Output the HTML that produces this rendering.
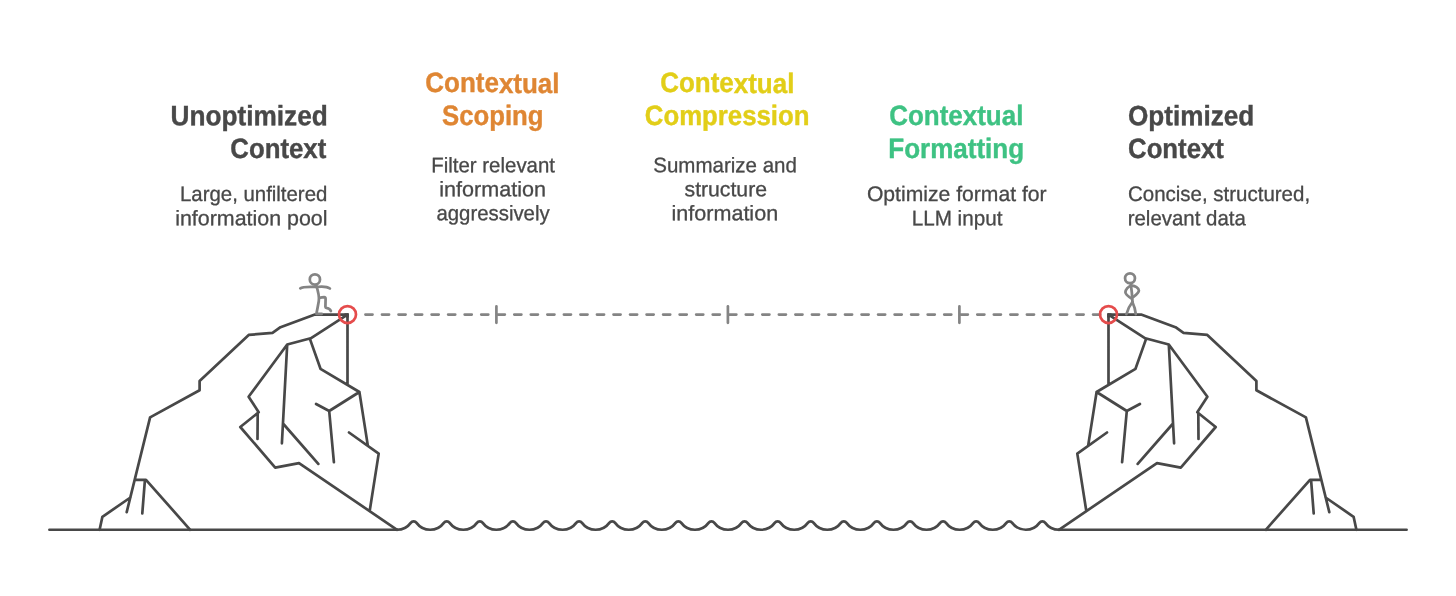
<!DOCTYPE html>
<html lang="en">
<head>
<meta charset="utf-8">
<title>Context Optimization</title>
<style>
html,body{margin:0;padding:0;background:#fff;}
body{width:1456px;height:596px;overflow:hidden;}
svg{display:block;will-change:transform;}
text{font-family:"Liberation Sans",sans-serif;}
</style>
</head>
<body>
<svg width="1456" height="596" viewBox="0 0 1456 596">
<rect width="1456" height="596" fill="#ffffff"/>
<g fill="none" stroke="#484848" stroke-width="2.7" stroke-linecap="round" stroke-linejoin="round">
<path d="M49.4,529.75 H397.1 M1058.9,529.75 H1406.6"/>
<path d="M347.5,314.6 L314.9,314.6 L280.5,327.2 L272.5,332.9 L248.7,334.9 L199.6,381.0 L199.6,390.3 L150.1,417.4 L126.7,512.1 M99.6,529.8 L102.4,516.8 L130.4,497.5 M134.8,479.8 L146.0,479.8 L190.2,529.8 M144.9,480.3 L142.3,513.3 M347.5,314.6 L310.7,338.3 L287.2,344.5 L248.6,396.7 L258.7,412.2 L240.3,427.0 L275.2,467.6 L299.0,463.1 L397.1,529.8 M257.7,412.8 L257.5,439.0 M287.2,344.5 L281.9,443.3 M283.4,424.0 L318.3,463.9 M309.9,338.9 L320.5,368.8 L359.4,392.0 L329.2,411.0 L333.9,462.2 M329.2,411.0 L316.1,404.0 M347.5,314.6 L347.5,384.6 M359.4,392.0 L367.8,445.4 M349.0,432.5 L378.7,453.6 L369.8,510.3"/>
<path d="M1108.5,314.6 L1141.1,314.6 L1175.5,327.2 L1183.5,332.9 L1207.3,334.9 L1256.4,381.0 L1256.4,390.3 L1305.9,417.4 L1329.3,512.1 M1356.4,529.8 L1353.6,516.8 L1325.6,497.5 M1321.2,479.8 L1310.0,479.8 L1265.8,529.8 M1311.1,480.3 L1313.7,513.3 M1108.5,314.6 L1145.3,338.3 L1168.8,344.5 L1207.4,396.7 L1197.3,412.2 L1215.7,427.0 L1180.8,467.6 L1157.0,463.1 L1058.9,529.8 M1198.3,412.8 L1198.5,439.0 M1168.8,344.5 L1174.1,443.3 M1172.6,424.0 L1137.7,463.9 M1146.1,338.9 L1135.5,368.8 L1096.6,392.0 L1126.8,411.0 L1122.1,462.2 M1126.8,411.0 L1139.9,404.0 M1108.5,314.6 L1108.5,384.6 M1096.6,392.0 L1088.2,445.4 M1107.0,432.5 L1077.3,453.6 L1086.2,510.3"/>
<path d="M344.50,314.55 H347.5 V317.55 M1111.50,314.55 H1108.5 V317.55" stroke-linejoin="miter" stroke-linecap="butt"/>
</g>
<path d="M397.10,529.75 A16.89,16.89 0 0 0 410.74,522.83 A3.60,3.60 0 0 1 416.55,522.83 A16.89,16.89 0 0 0 430.19,529.75 A16.89,16.89 0 0 0 443.83,522.83 A3.60,3.60 0 0 1 449.64,522.83 A16.89,16.89 0 0 0 463.28,529.75 A16.89,16.89 0 0 0 476.92,522.83 A3.60,3.60 0 0 1 482.73,522.83 A16.89,16.89 0 0 0 496.37,529.75 A16.89,16.89 0 0 0 510.01,522.83 A3.60,3.60 0 0 1 515.82,522.83 A16.89,16.89 0 0 0 529.46,529.75 A16.89,16.89 0 0 0 543.10,522.83 A3.60,3.60 0 0 1 548.91,522.83 A16.89,16.89 0 0 0 562.55,529.75 A16.89,16.89 0 0 0 576.19,522.83 A3.60,3.60 0 0 1 582.00,522.83 A16.89,16.89 0 0 0 595.64,529.75 A16.89,16.89 0 0 0 609.28,522.83 A3.60,3.60 0 0 1 615.09,522.83 A16.89,16.89 0 0 0 628.73,529.75 A16.89,16.89 0 0 0 642.37,522.83 A3.60,3.60 0 0 1 648.18,522.83 A16.89,16.89 0 0 0 661.82,529.75 A16.89,16.89 0 0 0 675.46,522.83 A3.60,3.60 0 0 1 681.27,522.83 A16.89,16.89 0 0 0 694.91,529.75 A16.89,16.89 0 0 0 708.55,522.83 A3.60,3.60 0 0 1 714.36,522.83 A16.89,16.89 0 0 0 728.00,529.75 A16.89,16.89 0 0 0 741.64,522.83 A3.60,3.60 0 0 1 747.45,522.83 A16.89,16.89 0 0 0 761.09,529.75 A16.89,16.89 0 0 0 774.73,522.83 A3.60,3.60 0 0 1 780.54,522.83 A16.89,16.89 0 0 0 794.18,529.75 A16.89,16.89 0 0 0 807.82,522.83 A3.60,3.60 0 0 1 813.63,522.83 A16.89,16.89 0 0 0 827.27,529.75 A16.89,16.89 0 0 0 840.91,522.83 A3.60,3.60 0 0 1 846.72,522.83 A16.89,16.89 0 0 0 860.36,529.75 A16.89,16.89 0 0 0 874.00,522.83 A3.60,3.60 0 0 1 879.81,522.83 A16.89,16.89 0 0 0 893.45,529.75 A16.89,16.89 0 0 0 907.09,522.83 A3.60,3.60 0 0 1 912.90,522.83 A16.89,16.89 0 0 0 926.54,529.75 A16.89,16.89 0 0 0 940.18,522.83 A3.60,3.60 0 0 1 945.99,522.83 A16.89,16.89 0 0 0 959.63,529.75 A16.89,16.89 0 0 0 973.27,522.83 A3.60,3.60 0 0 1 979.08,522.83 A16.89,16.89 0 0 0 992.72,529.75 A16.89,16.89 0 0 0 1006.36,522.83 A3.60,3.60 0 0 1 1012.17,522.83 A16.89,16.89 0 0 0 1025.81,529.75 A16.89,16.89 0 0 0 1039.45,522.83 A3.60,3.60 0 0 1 1045.26,522.83 A16.89,16.89 0 0 0 1058.90,529.75" fill="none" stroke="#484848" stroke-width="2.7" stroke-linecap="round" stroke-linejoin="round"/>
<g fill="none" stroke="#848484" stroke-width="2.7" stroke-linecap="round" stroke-linejoin="round">
<path d="M365.43,314.55h7.10 M381.97,314.55h7.10 M398.51,314.55h7.10 M415.05,314.55h7.10 M431.59,314.55h7.10 M448.13,314.55h7.10 M464.67,314.55h7.10 M481.21,314.55h7.10 M497.75,314.55h7.10 M514.29,314.55h7.10 M530.82,314.55h7.10 M547.36,314.55h7.10 M563.89,314.55h7.10 M580.43,314.55h7.10 M596.96,314.55h7.10 M613.50,314.55h7.10 M630.04,314.55h7.10 M646.57,314.55h7.10 M663.11,314.55h7.10 M679.64,314.55h7.10 M696.18,314.55h7.10 M712.71,314.55h7.10 M729.25,314.55h7.10 M745.79,314.55h7.10 M762.32,314.55h7.10 M778.86,314.55h7.10 M795.39,314.55h7.10 M811.93,314.55h7.10 M828.46,314.55h7.10 M845.00,314.55h7.10 M861.54,314.55h7.10 M878.07,314.55h7.10 M894.61,314.55h7.10 M911.14,314.55h7.10 M927.68,314.55h7.10 M944.21,314.55h7.10 M960.75,314.55h7.10 M977.29,314.55h7.10 M993.83,314.55h7.10 M1010.37,314.55h7.10 M1026.91,314.55h7.10 M1043.45,314.55h7.10 M1059.99,314.55h7.10 M1076.53,314.55h7.10 M1093.07,314.55h7.10"/>
<path d="M496.4,306.4 V322.8"/>
<path d="M727.9,306.4 V322.8"/>
<path d="M959.4,306.4 V322.8"/>
</g>
<g fill="none" stroke="#848484" stroke-width="2.75" stroke-linecap="round" stroke-linejoin="round">
<circle cx="314.9" cy="279.4" r="5.1"/>
<path d="M300.3,288.3 C302.8,286.5 306.5,286.7 315.6,287.0 C320,286.4 326,285.6 329.9,288.5"/>
<path d="M316.2,285.2 Q319.6,296 318.8,301 Q317.6,308 316.4,313.8 H321.8"/>
<path d="M319.4,297.8 Q322,297.4 324.2,297.2 Q325.7,297.2 325.6,299 L325.4,307 Q325.5,308.2 326.8,308.2 Q329.4,308.2 330.9,311"/>
<circle cx="1130" cy="278.2" r="4.95"/>
<path d="M1130.8,284 Q1132.1,293 1132.5,302.4"/>
<path d="M1130.9,285.8 C1128.6,286.2 1125.4,289.4 1125.4,292.3 C1125.4,293.6 1128.8,296.8 1132.0,298.9"/>
<path d="M1132.1,285.6 C1135.0,285.8 1138.7,287.8 1138.9,290.5 C1139.0,292.0 1136.4,294.6 1133.4,296.9"/>
<path d="M1132.4,302 Q1128,307.6 1126.4,314.2"/>
<path d="M1132.4,302 Q1135.2,308 1135.8,314.2"/>
</g>
<g fill="none" stroke="#E54C4C" stroke-width="2.7">
<circle cx="347.5" cy="314.55" r="8.5"/>
<circle cx="1108.5" cy="314.55" r="8.5"/>
</g>
<g>
<text transform="rotate(0.03 249.1 125.2)" x="170.53" y="125.20" font-size="28" font-weight="700" fill="#484848" stroke="#484848" stroke-width="0.4" textLength="157.20" lengthAdjust="spacingAndGlyphs">Unoptimized</text>
<text transform="rotate(0.03 278.7 157.6)" x="230.34" y="157.60" font-size="28" font-weight="700" fill="#484848" stroke="#484848" stroke-width="0.4" textLength="95.97" lengthAdjust="spacingAndGlyphs">Context</text>
<text transform="rotate(0.03 253.9 201.0)" x="179.98" y="201.00" font-size="21" font-weight="400" fill="#484848" stroke="#484848" stroke-width="0.3" textLength="147.39" lengthAdjust="spacingAndGlyphs">Large, unfiltered</text>
<text transform="rotate(0.03 251.3 225.3)" x="175.17" y="225.30" font-size="21" font-weight="400" fill="#484848" stroke="#484848" stroke-width="0.3" textLength="152.31" lengthAdjust="spacingAndGlyphs">information pool</text>
<text transform="rotate(0.03 492.0 92.5)" x="425.33" y="92.50" font-size="28" font-weight="700" fill="#DF8633" stroke="#DF8633" stroke-width="0.4" textLength="134.20" lengthAdjust="spacingAndGlyphs">Contextual</text>
<text transform="rotate(0.03 492.3 124.9)" x="442.06" y="124.90" font-size="28" font-weight="700" fill="#DF8633" stroke="#DF8633" stroke-width="0.4" textLength="101.46" lengthAdjust="spacingAndGlyphs">Scoping</text>
<text transform="rotate(0.03 493.9 172.3)" x="431.27" y="172.30" font-size="21" font-weight="400" fill="#484848" stroke="#484848" stroke-width="0.3" textLength="123.72" lengthAdjust="spacingAndGlyphs">Filter relevant</text>
<text transform="rotate(0.03 492.7 196.3)" x="439.31" y="196.30" font-size="21" font-weight="400" fill="#484848" stroke="#484848" stroke-width="0.3" textLength="106.74" lengthAdjust="spacingAndGlyphs">information</text>
<text transform="rotate(0.03 493.5 220.3)" x="436.48" y="220.30" font-size="21" font-weight="400" fill="#484848" stroke="#484848" stroke-width="0.3" textLength="113.20" lengthAdjust="spacingAndGlyphs">aggressively</text>
<text transform="rotate(0.03 726.9 92.5)" x="660.18" y="92.50" font-size="28" font-weight="700" fill="#E2CE18" stroke="#E2CE18" stroke-width="0.4" textLength="134.20" lengthAdjust="spacingAndGlyphs">Contextual</text>
<text transform="rotate(0.03 726.9 124.9)" x="644.84" y="124.90" font-size="28" font-weight="700" fill="#E2CE18" stroke="#E2CE18" stroke-width="0.4" textLength="164.65" lengthAdjust="spacingAndGlyphs">Compression</text>
<text transform="rotate(0.03 724.9 172.3)" x="653.22" y="172.30" font-size="21" font-weight="400" fill="#484848" stroke="#484848" stroke-width="0.3" textLength="143.65" lengthAdjust="spacingAndGlyphs">Summarize and</text>
<text transform="rotate(0.03 725.6 196.3)" x="684.56" y="196.30" font-size="21" font-weight="400" fill="#484848" stroke="#484848" stroke-width="0.3" textLength="82.43" lengthAdjust="spacingAndGlyphs">structure</text>
<text transform="rotate(0.03 724.8 220.3)" x="671.51" y="220.30" font-size="21" font-weight="400" fill="#484848" stroke="#484848" stroke-width="0.3" textLength="106.64" lengthAdjust="spacingAndGlyphs">information</text>
<text transform="rotate(0.03 955.9 125.2)" x="889.18" y="125.20" font-size="28" font-weight="700" fill="#3EC283" stroke="#3EC283" stroke-width="0.4" textLength="134.20" lengthAdjust="spacingAndGlyphs">Contextual</text>
<text transform="rotate(0.03 956.2 157.6)" x="888.26" y="157.60" font-size="28" font-weight="700" fill="#3EC283" stroke="#3EC283" stroke-width="0.4" textLength="135.88" lengthAdjust="spacingAndGlyphs">Formatting</text>
<text transform="rotate(0.03 957.1 201.0)" x="866.95" y="201.00" font-size="21" font-weight="400" fill="#484848" stroke="#484848" stroke-width="0.3" textLength="179.65" lengthAdjust="spacingAndGlyphs">Optimize format for</text>
<text transform="rotate(0.03 957.8 225.3)" x="911.66" y="225.30" font-size="21" font-weight="400" fill="#484848" stroke="#484848" stroke-width="0.3" textLength="90.75" lengthAdjust="spacingAndGlyphs">LLM input</text>
<text transform="rotate(0.03 1190.8 125.2)" x="1128.03" y="125.20" font-size="28" font-weight="700" fill="#484848" stroke="#484848" stroke-width="0.4" textLength="126.29" lengthAdjust="spacingAndGlyphs">Optimized</text>
<text transform="rotate(0.03 1176.3 157.6)" x="1128.04" y="157.60" font-size="28" font-weight="700" fill="#484848" stroke="#484848" stroke-width="0.4" textLength="95.87" lengthAdjust="spacingAndGlyphs">Context</text>
<text transform="rotate(0.03 1218.7 201.0)" x="1128.01" y="201.00" font-size="21" font-weight="400" fill="#484848" stroke="#484848" stroke-width="0.3" textLength="182.08" lengthAdjust="spacingAndGlyphs">Concise, structured,</text>
<text transform="rotate(0.03 1187.5 225.3)" x="1127.69" y="225.30" font-size="21" font-weight="400" fill="#484848" stroke="#484848" stroke-width="0.3" textLength="118.16" lengthAdjust="spacingAndGlyphs">relevant data</text>
</g>
</svg>
</body>
</html>
